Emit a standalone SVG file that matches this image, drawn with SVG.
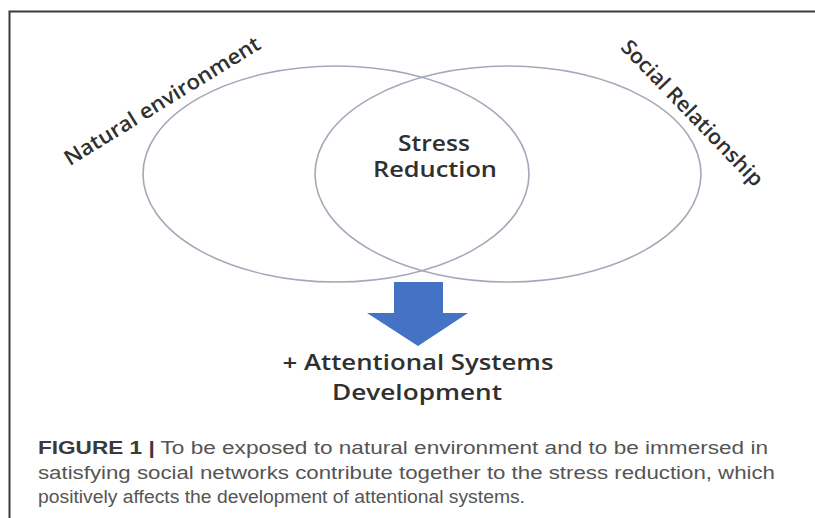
<svg xmlns="http://www.w3.org/2000/svg" width="815" height="518" viewBox="0 0 815 518">
  <style>
    .set { fill: none; stroke: #a3a9b8; stroke-width: 1.6; }
    .label { font-family: "Open Sans", "Liberation Sans", sans-serif; fill: #303030; font-size: 21px; font-weight: 600; }
    .center { text-anchor: middle; }
    .caption { font-family: "Liberation Sans", Arial, sans-serif; fill: #555; font-size: 17.5px; }
    .caption .fig { font-weight: bold; fill: #3a3a3a; }
  </style>
  <rect width="815" height="518" fill="#ffffff"/>

  <!-- figure frame (left and top edges) -->
  <path d="M9.5 518 V11.5 H815" fill="none" stroke="#3a3a3a" stroke-width="2"/>

  <!-- the two overlapping sets -->
  <g id="natural-environment">
    <ellipse class="set" cx="336" cy="174" rx="193" ry="108"/>
    <text class="label center" transform="translate(166 107) rotate(-31.6)" textLength="226" lengthAdjust="spacingAndGlyphs">Natural environment</text>
  </g>
  <g id="social-relationship">
    <ellipse class="set" cx="508" cy="174" rx="193" ry="108"/>
    <text class="label center" transform="translate(687 118) rotate(46)" textLength="194" lengthAdjust="spacingAndGlyphs">Social Relationship</text>
  </g>

  <!-- overlap label -->
  <g id="stress-reduction">
    <text class="label center" x="434" y="151" textLength="72" lengthAdjust="spacingAndGlyphs">Stress</text>
    <text class="label center" x="435" y="177" textLength="124" lengthAdjust="spacingAndGlyphs">Reduction</text>
  </g>

  <!-- block arrow down to the outcome -->
  <g id="connectors">
    <path d="M394 282 H443 V313 H468 L418 346 L367 313 H394 Z" fill="#4472c4"/>
  </g>

  <g id="attentional-systems">
    <text class="label center" x="418" y="370" textLength="271" lengthAdjust="spacingAndGlyphs">+ Attentional Systems</text>
    <text class="label center" x="417" y="400" textLength="170" lengthAdjust="spacingAndGlyphs">Development</text>
  </g>

  <!-- caption -->
  <g id="caption" class="caption">
    <text x="38" y="454" textLength="730" lengthAdjust="spacingAndGlyphs"><tspan class="fig">FIGURE 1 |</tspan> To be exposed to natural environment and to be immersed in</text>
    <text x="38" y="479" textLength="737" lengthAdjust="spacingAndGlyphs">satisfying social networks contribute together to the stress reduction, which</text>
    <text x="38" y="503" textLength="487" lengthAdjust="spacingAndGlyphs">positively affects the development of attentional systems.</text>
  </g>
</svg>
